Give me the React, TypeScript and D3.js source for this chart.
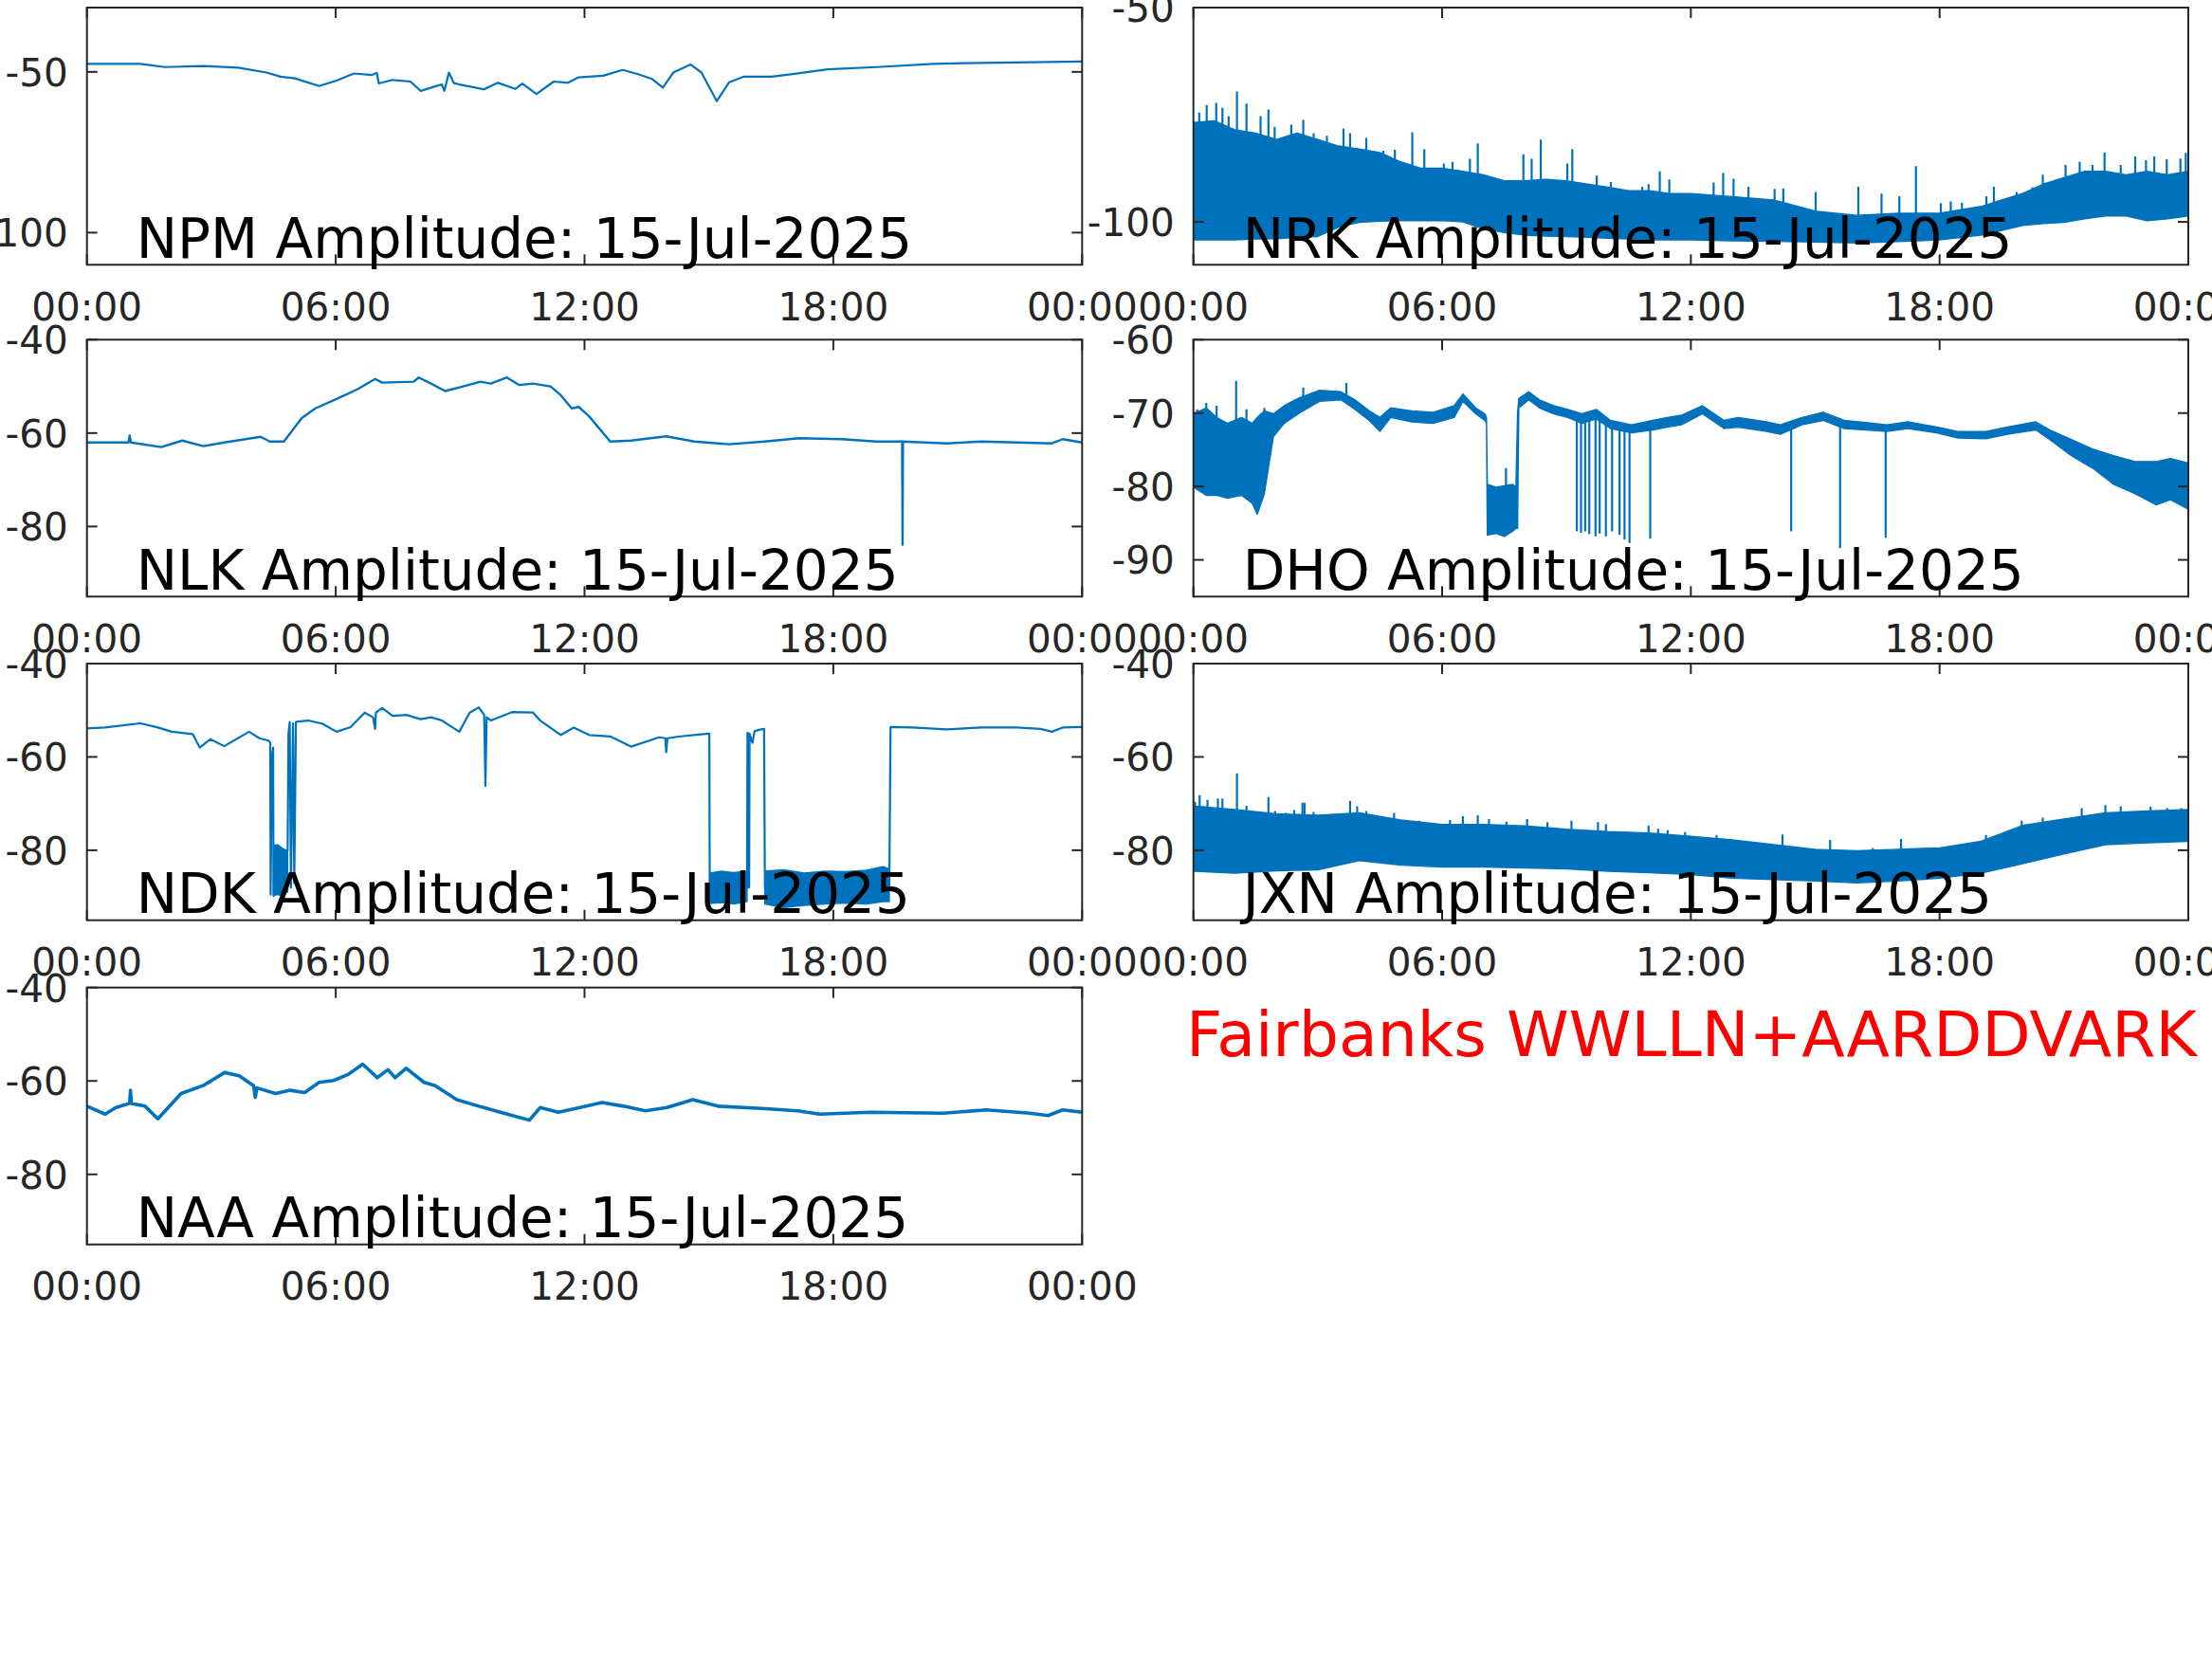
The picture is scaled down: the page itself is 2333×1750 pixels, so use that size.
import React from 'react';
import * as d3 from 'd3';

const W = 2333;
const H = 1750;
const BLUE = '#0072BD';
const AXIS = '#262626';
const FONT = '"DejaVu Sans", sans-serif';

const timeTickHours = [0, 6, 12, 18, 24];
const timeTickLabels = ['00:00', '06:00', '12:00', '18:00', '00:00'];
const dateLabel = '15-Jul-2025';
const siteLabel = 'Fairbanks WWLLN+AARDDVARK';

// ---------- NPM ----------
const npmHours = [0, 1.29, 1.88, 2.81, 3.65, 4.33, 4.67, 5.01, 5.6, 6.02, 6.44, 6.87, 6.99, 7.04, 7.37, 7.8, 8.05, 8.4, 8.56, 8.62, 8.73, 8.85, 8.98, 9.57, 9.91, 10.33, 10.5, 10.84, 11.26, 11.6, 11.86, 12.45, 12.92, 13.29, 13.63, 13.89, 14.14, 14.56, 14.82, 15.19, 15.49, 15.83, 16.51, 17.02, 17.86, 19.04, 20.4, 21.58, 24];
const npmValues = [-47.5, -47.5, -48.5, -48.2, -48.7, -50.2, -51.5, -52.0, -54.4, -52.7, -50.5, -51.0, -50.3, -53.6, -52.5, -53.0, -55.9, -54.5, -53.9, -55.9, -50.2, -53.5, -53.9, -55.4, -53.4, -55.3, -53.6, -56.9, -53.0, -53.4, -51.7, -51.2, -49.4, -50.7, -52.2, -54.9, -50.2, -47.7, -50.2, -59.1, -53.2, -51.5, -51.5, -50.7, -49.2, -48.5, -47.5, -47.2, -46.8];

// ---------- NRK ----------
const nrkHours = [0, 0.5, 1, 1.5, 2, 2.5, 3, 3.5, 4, 4.5, 5, 5.5, 6, 6.5, 7, 7.5, 8, 8.5, 9, 9.5, 10, 10.5, 11, 11.5, 12, 13, 14, 15, 16, 17, 18, 19, 19.5, 20, 20.5, 21, 21.5, 22, 22.5, 23, 23.5, 24];
const nrkUpper = [-76.8, -76.4, -78.5, -79.3, -80.8, -79.3, -80.8, -82.3, -83.0, -83.8, -86.0, -87.5, -87.5, -88.2, -89.0, -90.4, -90.4, -90.1, -90.4, -91.2, -91.9, -92.7, -92.7, -93.4, -93.4, -94.1, -94.9, -97.5, -98.5, -98.0, -98.0, -96.4, -94.9, -93.4, -91.2, -89.7, -88.2, -88.2, -89.0, -88.2, -89.0, -88.2];
const nrkLower = [-104.2, -104.2, -104.2, -104.0, -103.9, -103.6, -103.4, -101.2, -100.1, -99.8, -99.7, -99.7, -99.7, -100.0, -101.6, -102.5, -103.1, -103.3, -103.4, -103.6, -103.8, -104.0, -104.2, -104.2, -104.2, -104.4, -104.5, -104.7, -104.9, -104.6, -104.2, -103.1, -102.0, -100.8, -100.4, -100.1, -99.3, -98.6, -98.6, -99.7, -99.3, -98.6];
const nrkSpikeHours = [0.14, 0.32, 0.55, 0.70, 0.85, 1.05, 1.28, 1.62, 1.81, 1.96, 2.36, 2.65, 2.90, 3.22, 3.62, 3.78, 4.17, 4.58, 4.86, 5.28, 5.57, 6.04, 6.25, 6.67, 6.86, 7.96, 8.16, 8.38, 9.02, 9.14, 9.73, 10.07, 10.83, 10.98, 11.25, 11.48, 11.9, 12.55, 12.78, 13.03, 13.39, 14.02, 14.23, 15.01, 16.04, 16.6, 17.03, 17.43, 18.03, 18.27, 18.54, 19.13, 19.31, 19.86, 20.24, 20.49, 21.04, 21.38, 21.69, 21.98, 22.37, 22.72, 22.98, 23.18, 23.48, 23.81, 23.94];
const nrkSpikeValues = [-74.5, -72.7, -72.2, -73.4, -75.3, -69.6, -72.4, -75.3, -73.8, -77.8, -77.3, -76.2, -79.3, -79.9, -78.2, -79.3, -80.4, -83.4, -83.2, -79.1, -83.0, -86.4, -86.0, -85.3, -81.7, -84.2, -85.3, -80.8, -86.4, -83.0, -89.2, -90.7, -91.8, -91.2, -88.2, -90.1, -94.5, -90.8, -88.6, -89.9, -91.8, -92.3, -92.2, -93.0, -91.8, -93.4, -94.0, -87.0, -95.6, -95.2, -95.5, -94.0, -91.8, -93.0, -91.9, -89.0, -86.7, -86.0, -86.7, -83.8, -86.7, -84.7, -85.6, -84.7, -85.4, -85.2, -83.9];

// ---------- NLK ----------
const nlkHours = [0, 1.0, 1.03, 1.06, 1.79, 2.3, 2.81, 3.31, 4.19, 4.41, 4.75, 5.18, 5.51, 6.02, 6.53, 6.95, 7.12, 7.88, 8.0, 8.3, 8.64, 9.07, 9.49, 9.74, 10.13, 10.42, 10.76, 11.18, 11.43, 11.69, 11.86, 12.11, 12.62, 13.12, 13.97, 14.65, 15.49, 16.34, 17.18, 18.2, 19.04, 19.66, 19.67, 19.68, 20.74, 21.58, 22.43, 23.27, 23.53, 24];
const nlkValues = [-62.0, -62.0, -60.5, -62.0, -63.0, -61.6, -62.8, -62.0, -60.8, -61.8, -61.8, -56.8, -54.7, -52.7, -50.6, -48.4, -49.2, -49.0, -48.1, -49.4, -51.0, -50.0, -49.0, -49.4, -48.1, -49.7, -49.4, -50.0, -51.9, -54.7, -54.4, -56.4, -61.8, -61.6, -60.7, -61.8, -62.4, -61.8, -61.1, -61.3, -61.8, -61.8, -83.9, -61.8, -62.2, -61.8, -62.0, -62.2, -61.3, -62.0];

// ---------- DHO ----------
const dhoHours = [0, 0.31, 0.56, 0.82, 1.16, 1.42, 1.54, 1.71, 1.93, 2.19, 2.53, 3.04, 3.56, 3.90, 4.24, 4.50, 4.76, 5.27, 5.78, 6.29, 6.50, 6.81, 7.03, 7.07, 7.09, 7.30, 7.50, 7.70, 7.78, 7.82, 7.85, 8.09, 8.35, 8.69, 9.03, 9.37, 9.72, 10.06, 10.57, 11.08, 11.43, 11.77, 12.28, 12.80, 13.14, 13.82, 14.16, 14.68, 15.19, 15.70, 16.22, 16.73, 17.24, 17.93, 18.44, 19.12, 19.64, 20.32, 20.66, 21.18, 21.69, 22.20, 22.72, 23.23, 23.57, 24.00];
const dhoUpper = [-70.1, -69.3, -70.6, -71.4, -70.6, -71.4, -70.6, -69.7, -70.1, -69.0, -68.0, -66.9, -67.1, -68.2, -69.7, -70.6, -69.3, -69.7, -69.9, -69.0, -67.4, -69.3, -70.1, -70.6, -79.7, -80.1, -79.9, -79.7, -80.1, -69.9, -68.0, -67.1, -68.2, -69.0, -69.5, -70.1, -69.5, -71.0, -71.6, -71.0, -70.6, -70.3, -69.0, -71.0, -70.6, -71.2, -71.6, -70.6, -69.9, -71.0, -71.3, -71.6, -71.2, -71.9, -72.5, -72.5, -71.9, -71.2, -72.3, -73.6, -74.9, -75.8, -76.6, -76.6, -76.2, -76.8];
const dhoLower = [-80.1, -81.2, -81.2, -81.6, -81.2, -82.3, -83.8, -81.0, -73.2, -71.4, -70.1, -68.4, -68.2, -69.5, -71.0, -72.5, -70.6, -71.2, -71.4, -70.6, -68.4, -70.1, -71.0, -71.4, -86.6, -86.4, -86.8, -86.1, -85.7, -85.7, -69.3, -68.2, -69.3, -70.1, -70.6, -71.4, -70.8, -72.1, -72.7, -72.3, -71.9, -71.6, -70.1, -72.1, -71.9, -72.5, -72.9, -71.6, -71.0, -72.1, -72.3, -72.5, -72.1, -72.7, -73.4, -73.5, -72.9, -72.3, -73.6, -75.8, -77.5, -79.7, -81.0, -82.5, -81.8, -83.1];
const dhoSpikeHours = [0.09, 0.31, 0.56, 1.03, 1.28, 1.71, 2.65, 3.69, 7.54, 9.25, 9.35, 9.45, 9.55, 9.7, 9.8, 9.95, 10.1, 10.28, 10.4, 10.52, 11.02, 14.42, 15.6, 16.7];
const dhoSpikeValues = [-69.5, -68.6, -69.0, -65.6, -69.5, -69.3, -66.5, -65.9, -77.5, -86.1, -86.3, -86.1, -86.5, -86.8, -86.4, -86.8, -86.1, -86.6, -87.2, -87.7, -87.1, -86.1, -88.4, -87.0];

// ---------- NDK ----------
const ndkHours = [0, 0.44, 1.29, 1.71, 2.05, 2.55, 2.72, 2.98, 3.31, 3.91, 4.16, 4.38, 4.42, 4.43, 4.46, 4.49, 4.5, 4.84, 4.86, 4.89, 4.92, 4.97, 5.0, 5.04, 5.09, 5.34, 5.68, 6.02, 6.36, 6.70, 6.9, 6.95, 6.97, 7.12, 7.37, 7.7, 8.05, 8.3, 8.56, 8.98, 9.23, 9.45, 9.58, 9.61, 9.64, 9.74, 10.25, 10.76, 10.93, 11.43, 11.74, 12.11, 12.62, 13.12, 13.8, 13.95, 13.97, 14.0, 14.31, 14.99, 15.01, 15.02, 15.92, 15.93, 15.96, 15.97, 15.98, 16.05, 16.1, 16.2, 16.33, 16.35, 19.35, 19.38, 19.89, 20.74, 21.58, 22.43, 23.0, 23.27, 23.53, 24];
const ndkValues = [-53.9, -53.7, -52.8, -53.7, -54.6, -55.1, -58.0, -56.2, -57.7, -54.6, -56.0, -56.5, -57.0, -89.5, -60.0, -58.0, -89.8, -80.0, -55.0, -52.5, -88.0, -52.8, -87.0, -52.5, -52.4, -52.2, -52.9, -54.6, -53.6, -50.5, -51.5, -54.0, -50.5, -49.5, -51.2, -51.0, -51.9, -51.5, -52.2, -54.6, -50.5, -49.4, -51.0, -66.2, -51.5, -52.2, -50.4, -50.5, -52.2, -55.3, -53.7, -55.3, -55.6, -57.8, -55.8, -56.0, -59.0, -56.0, -55.6, -55.0, -55.0, -88.0, -88.0, -54.8, -56.0, -88.0, -55.0, -57.0, -54.5, -54.2, -54.0, -88.0, -88.0, -53.6, -53.7, -54.1, -53.7, -53.7, -54.0, -54.6, -53.7, -53.6];
const ndkNoiseHours = [4.5, 4.6, 4.7, 4.8, 4.84, null, 15.02, 15.3, 15.6, 15.92, null, 16.35, 16.8, 17.3, 17.8, 18.3, 18.8, 19.2, 19.35];
const ndkNoiseUpper = [-79, -78.8, -79.5, -80, -80, null, -84.9, -84.5, -84.8, -84.5, null, -84.5, -84.2, -84.9, -84.5, -84.6, -84.3, -83.5, -84];
const ndkNoiseLower = [-89.7, -89.5, -89.7, -89, -89, null, -91.4, -91.2, -91.5, -91, null, -91.5, -92.3, -91.8, -91.5, -91.3, -91.5, -91.0, -91];

// ---------- JXN ----------
const jxnHours = [0, 1, 2, 3, 4, 5, 6, 7, 8, 9, 10, 11, 12, 13, 14, 15, 16, 17, 18, 19, 20, 21, 22, 23, 24];
const jxnUpper = [-70.5, -71.3, -72.2, -72.5, -72.0, -73.5, -74.5, -74.5, -74.8, -75.5, -76.0, -76.3, -77.0, -77.8, -78.8, -79.8, -80.1, -79.8, -79.5, -78.1, -74.7, -73.3, -72.0, -71.6, -71.3];
const jxnLower = [-84.5, -84.9, -84.4, -84.2, -82.2, -83.2, -83.6, -83.6, -83.8, -84.0, -84.5, -84.8, -85.2, -86.0, -86.3, -86.6, -87.0, -86.6, -86.0, -84.9, -82.9, -80.8, -78.8, -78.4, -78.1];
const jxnSpikeHours = [0.04, 0.15, 0.34, 0.59, 0.70, 1.05, 1.18, 1.28, 1.81, 1.97, 2.23, 2.43, 2.63, 2.68, 2.90, 3.07, 3.47, 3.78, 3.95, 4.17, 4.84, 5.03, 5.45, 5.57, 6.19, 6.5, 6.86, 7.13, 7.55, 8.05, 8.54, 9.12, 9.76, 9.95, 10.98, 11.21, 11.44, 11.86, 12.62, 14.21, 15.36, 16.39, 17.07, 19.12, 19.98, 20.49, 21.43, 22.0, 22.37, 23.09, 23.49, 23.83];
const jxnSpikeValues = [-69.6, -68.2, -69.2, -68.9, -68.9, -63.5, -72.0, -70.5, -68.6, -71.6, -72.0, -71.4, -69.8, -69.8, -71.8, -73.0, -72.5, -69.4, -70.6, -71.6, -72.0, -74.0, -73.7, -74.4, -73.5, -72.7, -72.5, -73.3, -73.9, -73.3, -74.0, -73.7, -74.0, -74.4, -74.7, -75.4, -75.7, -76.1, -76.7, -76.6, -77.8, -79.5, -77.6, -76.7, -73.7, -73.0, -71.0, -70.3, -70.6, -70.7, -71.0, -71.0];

// ---------- NAA ----------
const naaHours = [0, 0.44, 0.70, 1.03, 1.05, 1.07, 1.40, 1.71, 1.92, 2.27, 2.80, 3.32, 3.67, 4.02, 4.06, 4.10, 4.55, 4.90, 5.25, 5.60, 5.95, 6.30, 6.65, 7.0, 7.26, 7.43, 7.70, 8.13, 8.40, 8.92, 9.45, 9.97, 10.67, 10.93, 11.37, 11.89, 12.42, 12.94, 13.47, 13.99, 14.61, 15.22, 16.27, 17.14, 17.67, 18.89, 20.64, 21.69, 22.74, 23.18, 23.53, 24];
const naaValues = [-65.4, -67.1, -65.7, -64.8, -62.0, -64.8, -65.4, -68.1, -66.1, -62.7, -61.0, -58.2, -58.9, -61.0, -63.5, -61.5, -62.7, -62.0, -62.5, -60.3, -59.9, -58.6, -56.4, -59.3, -57.6, -59.3, -57.3, -60.3, -61.0, -64.0, -65.4, -66.7, -68.4, -65.7, -66.7, -65.7, -64.6, -65.4, -66.4, -65.7, -64.0, -65.4, -65.9, -66.4, -67.1, -66.7, -66.9, -66.2, -66.9, -67.4, -66.2, -66.7];

// ---------- layout ----------
const COLS = [
  { x0: 91.7, x1: 1141.3 },
  { x0: 1258.7, x1: 2308 },
];
const ROWS = [
  { y0: 8, y1: 279.3 },
  { y0: 358.3, y1: 629.3 },
  { y0: 700, y1: 970.7 },
  { y0: 1041.7, y1: 1312.7 },
];

type Line = { hours: number[]; values: number[]; width: number };
type Band = { hours: (number | null)[]; upper: (number | null)[]; lower: (number | null)[] };
type Spikes = { hours: number[]; values: number[]; band: Band };

type PanelProps = {
  id: string;
  station: string;
  col: number;
  row: number;
  domain: [number, number];
  ticks: number[];
  lines?: Line[];
  bands?: Band[];
  spikes?: Spikes[];
};

const nrkBand: Band = { hours: nrkHours, upper: nrkUpper, lower: nrkLower };
const dhoBand: Band = { hours: dhoHours, upper: dhoUpper, lower: dhoLower };
const jxnBand: Band = { hours: jxnHours, upper: jxnUpper, lower: jxnLower };

const panels: PanelProps[] = [
  { id: 'npm', station: 'NPM', col: 0, row: 0, domain: [-110, -30], ticks: [-100, -50],
    lines: [{ hours: npmHours, values: npmValues, width: 2.2 }] },
  { id: 'nrk', station: 'NRK', col: 1, row: 0, domain: [-110, -50], ticks: [-100, -50],
    bands: [nrkBand],
    spikes: [{ hours: nrkSpikeHours, values: nrkSpikeValues, band: nrkBand }] },
  { id: 'nlk', station: 'NLK', col: 0, row: 1, domain: [-95, -40], ticks: [-80, -60, -40],
    lines: [{ hours: nlkHours, values: nlkValues, width: 2.4 }] },
  { id: 'dho', station: 'DHO', col: 1, row: 1, domain: [-95, -60], ticks: [-90, -80, -70, -60],
    bands: [dhoBand],
    spikes: [{ hours: dhoSpikeHours, values: dhoSpikeValues, band: dhoBand }] },
  { id: 'ndk', station: 'NDK', col: 0, row: 2, domain: [-95, -40], ticks: [-80, -60, -40],
    lines: [{ hours: ndkHours, values: ndkValues, width: 2.2 }],
    bands: [{ hours: ndkNoiseHours, upper: ndkNoiseUpper, lower: ndkNoiseLower }] },
  { id: 'jxn', station: 'JXN', col: 1, row: 2, domain: [-95, -40], ticks: [-80, -60, -40],
    bands: [jxnBand],
    spikes: [{ hours: jxnSpikeHours, values: jxnSpikeValues, band: jxnBand }] },
  { id: 'naa', station: 'NAA', col: 0, row: 3, domain: [-95, -40], ticks: [-80, -60, -40],
    lines: [{ hours: naaHours, values: naaValues, width: 3.6 }] },
];

const TICK_FS = 40.5;
const TITLE_FS = 58;
const TICK_LEN = 11;

function Panel(p: PanelProps) {
  const { x0, x1 } = COLS[p.col];
  const { y0, y1 } = ROWS[p.row];
  const x = d3.scaleLinear().domain([0, 24]).range([x0, x1]);
  const y = d3.scaleLinear().domain(p.domain).range([y1, y0]);
  const clipId = `clip-${p.id}`;

  const lineGen = d3
    .line<[number, number]>()
    .x((d) => x(d[0]))
    .y((d) => y(d[1]));

  type BP = { t: number | null; u: number | null; l: number | null };
  const areaGen = d3
    .area<BP>()
    .defined((d) => d.t != null && d.u != null && d.l != null)
    .x((d) => x(d.t as number))
    .y0((d) => y(d.l as number))
    .y1((d) => y(d.u as number));

  return (
    <g>
      <defs>
        <clipPath id={clipId}>
          <rect x={x0} y={y0} width={x1 - x0} height={y1 - y0} />
        </clipPath>
      </defs>
      <g clipPath={`url(#${clipId})`}>
        {(p.bands || []).map((b, i) => {
          const pts: BP[] = b.hours.map((t, k) => ({ t, u: b.upper[k], l: b.lower[k] }));
          return (
            <path key={`b${i}`} d={areaGen(pts) || ''} fill={BLUE} stroke={BLUE} strokeWidth={1.4} strokeLinejoin="round" />
          );
        })}
        {(p.spikes || []).map((s, i) => {
          const hrs = s.band.hours as number[];
          const mid = hrs.map((_, k) => ((s.band.upper[k] as number) + (s.band.lower[k] as number)) / 2);
          const midAt = d3.scaleLinear().domain(hrs).range(mid);
          return (
            <g key={`s${i}`}>
              {s.hours.map((t, k) => (
                <line key={k} x1={x(t)} x2={x(t)} y1={y(midAt(t))} y2={y(s.values[k])} stroke={BLUE} strokeWidth={2.2} />
              ))}
            </g>
          );
        })}
        {(p.lines || []).map((ln, i) => {
          const pts: [number, number][] = ln.hours.map((t, k) => [t, ln.values[k]]);
          return (
            <path key={`l${i}`} d={lineGen(pts) || ''} fill="none" stroke={BLUE} strokeWidth={ln.width} strokeLinejoin="round" />
          );
        })}
      </g>
      <rect x={x0} y={y0} width={x1 - x0} height={y1 - y0} fill="none" stroke={AXIS} strokeWidth={2} />
      {timeTickHours.map((t, i) => (
        <g key={`xt${i}`}>
          <line x1={x(t)} x2={x(t)} y1={y1} y2={y1 - TICK_LEN} stroke={AXIS} strokeWidth={2} />
          <line x1={x(t)} x2={x(t)} y1={y0} y2={y0 + TICK_LEN} stroke={AXIS} strokeWidth={2} />
          <text x={x(t)} y={y1 + 58.5} textAnchor="middle" fontFamily={FONT} fontSize={TICK_FS} fill={AXIS}>
            {timeTickLabels[i]}
          </text>
        </g>
      ))}
      {p.ticks.map((v, i) => (
        <g key={`yt${i}`}>
          <line x1={x0} x2={x0 + TICK_LEN} y1={y(v)} y2={y(v)} stroke={AXIS} strokeWidth={2} />
          <line x1={x1} x2={x1 - TICK_LEN} y1={y(v)} y2={y(v)} stroke={AXIS} strokeWidth={2} />
          <text x={x0 - 20} y={y(v) + 14.8} textAnchor="end" fontFamily={FONT} fontSize={TICK_FS} fill={AXIS}>
            {String(v)}
          </text>
        </g>
      ))}
      <text x={x0 + 52} y={y1 - 7.5} fontFamily={FONT} fontSize={TITLE_FS} fill="#000000">
        {`${p.station} Amplitude: ${dateLabel}`}
      </text>
    </g>
  );
}

export default function App() {
  return (
    <svg
      width={W}
      height={H}
      viewBox={`0 0 ${W} ${H}`}
      style={{ position: 'absolute', left: 0, top: 0, background: '#ffffff' }}
    >
      <rect x={0} y={0} width={W} height={H} fill="#ffffff" />
      {panels.map((p) => (
        <Panel key={p.id} {...p} />
      ))}
      <text x={1251} y={1114} fontFamily={FONT} fontSize={66.5} fill="#FF0000">
        {siteLabel}
      </text>
    </svg>
  );
}
